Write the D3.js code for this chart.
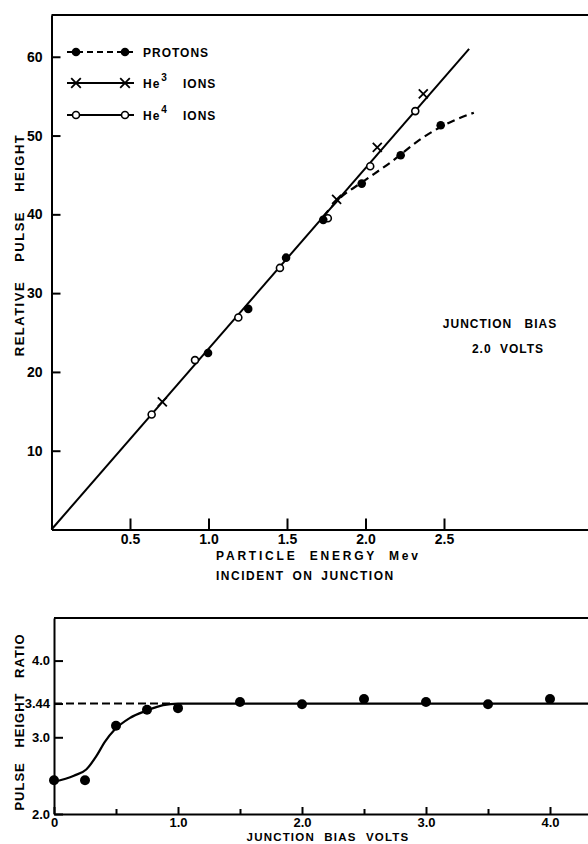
<!DOCTYPE html>
<html>
<head>
<meta charset="utf-8">
<script src="https://cdn.jsdelivr.net/npm/d3@7"></script>
<style>
body { margin: 0; background: #fff; }
svg { display: block; }
text { font-family: "Liberation Sans", Arial, sans-serif; font-weight: bold; fill: #000; }
</style>
</head>
<body>
<div class="chart"></div>
<script>
// top panel: relative pulse height vs particle energy
var energyTicks = [0.5, 1.0, 1.5, 2.0, 2.5];
var heightTicks = [10, 20, 30, 40, 50, 60];
var protonEnergy = [0.997, 1.253, 1.494, 1.731, 1.976, 2.224, 2.479];
var protonHeight = [22.4, 28.0, 34.5, 39.3, 43.9, 47.5, 51.3];
var he3Energy = [0.706, 1.816, 2.075, 2.368];
var he3Height = [16.2, 41.9, 48.5, 55.3];
var he4Energy = [0.638, 0.914, 1.19, 1.455, 1.76, 2.03, 2.317];
var he4Height = [14.6, 21.5, 26.9, 33.2, 39.5, 46.1, 53.1];
var fitEnergy = [0, 2.66];
var fitHeight = [0, 61.0];
var protonCurveEnergy = [1.73, 1.84, 1.98, 2.16, 2.37, 2.54, 2.69];
var protonCurveHeight = [39.7, 42.1, 44.1, 46.6, 49.8, 51.7, 52.9];

// bottom panel: pulse height ratio vs junction bias
var biasTicks = [0, 1, 2, 3, 4];
var biasMinorTicks = [0.5, 1.5, 2.5, 3.5, 4.5];
var ratioTicks = [2.0, 3.0, 3.44, 4.0];
var biasVolts = [0, 0.25, 0.5, 0.75, 1.0, 1.5, 2.0, 2.5, 3.0, 3.5, 4.0];
var ratioValues = [2.44, 2.44, 3.15, 3.36, 3.38, 3.46, 3.43, 3.50, 3.46, 3.43, 3.50];
var ratioCurveVolts = [0, 0.16, 0.26, 0.34, 0.41, 0.49, 0.61, 0.75, 0.88, 1.0, 4.6];
var ratioCurve = [2.42, 2.50, 2.58, 2.75, 2.94, 3.10, 3.25, 3.35, 3.42, 3.44, 3.44];
var plateauVolts = [0, 0.95];
var plateauRatio = [3.44, 3.44];

var width = 588, height = 844;

var svg = d3.select(".chart")
  .append("svg")
    .attr("width", width)
    .attr("height", height)
    .style("background", "#fff");

function marker(g, type, cx, cy, r) {
    if (type === "dot") {
        g.append("circle").attr("cx", cx).attr("cy", cy).attr("r", r).attr("fill", "#000");
    } else if (type === "open") {
        g.append("circle").attr("cx", cx).attr("cy", cy).attr("r", r - 0.8)
            .attr("fill", "#fff").attr("stroke", "#000").attr("stroke-width", 1.6);
    } else {
        var s = r + 0.5;
        g.append("path")
            .attr("d", "M" + (cx - s) + "," + (cy - s) + "L" + (cx + s) + "," + (cy + s) +
                       "M" + (cx - s) + "," + (cy + s) + "L" + (cx + s) + "," + (cy - s))
            .attr("stroke", "#000").attr("stroke-width", 1.8).attr("fill", "none");
    }
}

// ---------- top chart ----------
var x = d3.scaleLinear().domain([0, 3.5]).range([51.5, 51.5 + 3.5 * 157]);
var y = d3.scaleLinear().domain([0, 65.3]).range([529.5, 15]);

var topPanel = svg.append("g");

topPanel.append("g")
    .attr("class", "x axis big")
    .attr("transform", "translate(0," + y(0) + ")")
    .call(d3.axisBottom(x).tickValues(energyTicks).tickSizeInner(-11).tickSizeOuter(0).tickPadding(5)
        .tickFormat(function(d) { return d.toFixed(1); }));

topPanel.append("g")
    .attr("class", "y axis big")
    .attr("transform", "translate(" + x(0) + ",0)")
    .call(d3.axisLeft(y).tickValues(heightTicks).tickSizeInner(-9).tickSizeOuter(0).tickPadding(9));

topPanel.append("line")
    .attr("x1", x(0)).attr("x2", x(3.5))
    .attr("y1", y(65.3)).attr("y2", y(65.3))
    .attr("stroke", "#000").attr("stroke-width", 2);

var line = d3.line()
    .x(function(d) { return x(d[0]); })
    .y(function(d) { return y(d[1]); });

topPanel.append("path")
    .datum(d3.zip(fitEnergy, fitHeight))
    .attr("d", line)
    .attr("fill", "none").attr("stroke", "#000").attr("stroke-width", 2);

topPanel.append("path")
    .datum(d3.zip(protonCurveEnergy, protonCurveHeight))
    .attr("d", line.curve(d3.curveMonotoneX))
    .attr("fill", "none").attr("stroke", "#000").attr("stroke-width", 2.2)
    .attr("stroke-dasharray", "8,5");

d3.zip(he4Energy, he4Height).forEach(function(d) { marker(topPanel, "open", x(d[0]), y(d[1]), 4.3); });
d3.zip(protonEnergy, protonHeight).forEach(function(d) { marker(topPanel, "dot", x(d[0]), y(d[1]), 4.3); });
d3.zip(he3Energy, he3Height).forEach(function(d) { marker(topPanel, "cross", x(d[0]), y(d[1]), 4); });

// legend
var legendRows = [
    { type: "dot", dash: "6,4", name: "PROTONS", sup: null, y: 52 },
    { type: "cross", dash: null, name: "He", sup: "3", y: 83 },
    { type: "open", dash: null, name: "He", sup: "4", y: 115 }
];
legendRows.forEach(function(row) {
    topPanel.append("line")
        .attr("x1", 67).attr("x2", 134).attr("y1", row.y).attr("y2", row.y)
        .attr("stroke", "#000").attr("stroke-width", 2)
        .attr("stroke-dasharray", row.dash);
    marker(topPanel, row.type, 76, row.y, 4.3);
    marker(topPanel, row.type, 125, row.y, 4.3);
    var t = topPanel.append("text")
        .attr("x", 143).attr("y", row.y + 4.5)
        .style("font-size", "12px").style("letter-spacing", "1px");
    t.append("tspan").text(row.name);
    if (row.sup) {
        t.append("tspan").attr("dy", -7).attr("dx", 1).style("font-size", "10px").text(row.sup);
        t.append("tspan").attr("dy", 7).attr("x", 183).text("IONS");
    }
});

topPanel.append("text")
    .attr("x", 500).attr("y", 327.5).attr("text-anchor", "middle")
    .style("font-size", "12px").style("letter-spacing", "1px").style("word-spacing", "8px")
    .text("JUNCTION BIAS");
topPanel.append("text")
    .attr("x", 508).attr("y", 352.5).attr("text-anchor", "middle")
    .style("font-size", "12px").style("letter-spacing", "1px").style("word-spacing", "4px")
    .text("2.0 VOLTS");

topPanel.append("text")
    .attr("x", 216).attr("y", 559.5)
    .style("font-size", "12px").style("letter-spacing", "2.8px").style("word-spacing", "6px")
    .text("PARTICLE ENERGY Mev");
topPanel.append("text")
    .attr("x", 216).attr("y", 579.5)
    .style("font-size", "12px").style("letter-spacing", "1.5px").style("word-spacing", "3px")
    .text("INCIDENT ON JUNCTION");

topPanel.append("text")
    .attr("transform", "translate(24,245) rotate(-90)")
    .attr("text-anchor", "middle")
    .style("font-size", "13px").style("letter-spacing", "1.5px").style("word-spacing", "14px")
    .text("RELATIVE PULSE HEIGHT");

// ---------- bottom chart ----------
var bx = d3.scaleLinear().domain([0, 4.6]).range([54, 54 + 4.6 * 124]);
var by = d3.scaleLinear().domain([2.0, 4.555]).range([814, 618]);

var bottomPanel = svg.append("g");

bottomPanel.append("g")
    .attr("class", "x axis")
    .attr("transform", "translate(0," + by(2.0) + ")")
    .call(d3.axisBottom(bx).tickValues(biasTicks).tickSizeInner(-7).tickSizeOuter(0).tickPadding(4)
        .tickFormat(function(d) { return d === 0 ? "0" : d.toFixed(1); }));

bottomPanel.append("g")
    .attr("class", "x minor")
    .attr("transform", "translate(0," + by(2.0) + ")")
    .call(d3.axisBottom(bx).tickValues(biasMinorTicks).tickSizeInner(-5).tickSizeOuter(0)
        .tickFormat(function() { return ""; }))
    .select(".domain").remove();

bottomPanel.append("g")
    .attr("class", "y axis")
    .attr("transform", "translate(" + bx(0) + ",0)")
    .call(d3.axisLeft(by).tickValues(ratioTicks).tickSizeInner(-9).tickSizeOuter(0).tickPadding(4)
        .tickFormat(function(d) { return d === 3.44 ? "3.44" : d.toFixed(1); }));

bottomPanel.append("line")
    .attr("x1", bx(0)).attr("x2", bx(4.6))
    .attr("y1", by(4.555)).attr("y2", by(4.555))
    .attr("stroke", "#000").attr("stroke-width", 2);

var bline = d3.line()
    .x(function(d) { return bx(d[0]); })
    .y(function(d) { return by(d[1]); });

bottomPanel.append("path")
    .datum(d3.zip(plateauVolts, plateauRatio))
    .attr("d", bline)
    .attr("fill", "none").attr("stroke", "#000").attr("stroke-width", 2)
    .attr("stroke-dasharray", "8,4");

bottomPanel.append("path")
    .datum(d3.zip(ratioCurveVolts, ratioCurve))
    .attr("d", bline.curve(d3.curveMonotoneX))
    .attr("fill", "none").attr("stroke", "#000").attr("stroke-width", 2.2);

d3.zip(biasVolts, ratioValues).forEach(function(d) { marker(bottomPanel, "dot", bx(d[0]), by(d[1]), 5); });

bottomPanel.append("text")
    .attr("x", 328).attr("y", 841).attr("text-anchor", "middle")
    .style("font-size", "11.5px").style("letter-spacing", "1.2px").style("word-spacing", "5px")
    .text("JUNCTION BIAS VOLTS");

bottomPanel.append("text")
    .attr("transform", "translate(24,722) rotate(-90)")
    .attr("text-anchor", "middle")
    .style("font-size", "13px").style("letter-spacing", "1px").style("word-spacing", "10px")
    .text("PULSE HEIGHT RATIO");

// axis styling
svg.selectAll(".axis .domain").attr("stroke", "#000").attr("stroke-width", 2);
svg.selectAll(".axis .tick line, .minor .tick line").attr("stroke", "#000").attr("stroke-width", 2);
svg.selectAll(".axis .tick text")
    .style("font-family", "'Liberation Sans', Arial, sans-serif")
    .style("font-weight", "bold")
    .style("font-size", "13px")
    .attr("fill", "#000");
svg.selectAll(".big .tick text").style("font-size", "14px");
</script>
</body>
</html>
